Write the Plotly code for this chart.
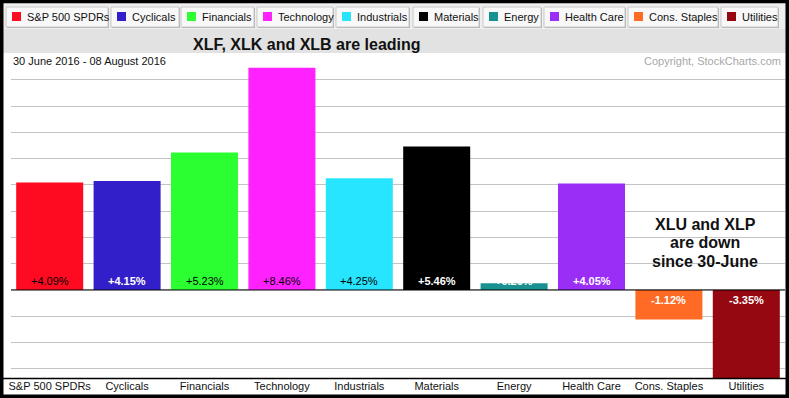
import plotly.graph_objects as go

# ---- data ----
categories = ["S&P 500 SPDRs", "Cyclicals", "Financials", "Technology", "Industrials",
              "Materials", "Energy", "Health Care", "Cons. Staples", "Utilities"]
changes = [4.09, 4.15, 5.23, 8.46, 4.25, 5.46, 0.26, 4.05, -1.12, -3.35]
bar_colors = ["#ff0b21", "#331fc9", "#2bff32", "#ff22ff", "#27e5ff",
              "#000000", "#1a9191", "#9a2ef6", "#ff6a24", "#950812"]
label_colors = ["black", "white", "black", "black", "black",
                "white", "white", "white", "white", "white"]
label_bold = [False, True, False, False, False, True, True, True, True, True]
title_text = "XLF, XLK and XLB are leading"
date_text = "30 June 2016 - 08 August 2016"
copyright_text = "Copyright, StockCharts.com"
note_lines = ["XLU and XLP", "are down", "since 30-June"]

# ---- layout constants (pixels) ----
W, H = 789, 398
PLOT_L, PLOT_R, PLOT_T, PLOT_B = 11, 785, 53, 378
legend_boxes = [(6, 108), (111, 179), (181, 254), (257, 333), (336, 409),
                (413, 479), (483, 541), (544, 625), (628, 718), (721, 778)]
FONT = "Liberation Sans, Arial, Helvetica, sans-serif"


def px(x):
    return x / W


def py(y):
    return 1 - y / H


fig = go.Figure()
fig.add_trace(go.Bar(
    x=categories, y=changes, marker=dict(color=bar_colors, line=dict(width=0)),
    hoverinfo="x+y", showlegend=False,
))

shapes = []
annotations = []

# header backgrounds
shapes.append(dict(type="rect", xref="paper", yref="paper", x0=0, x1=1,
                   y0=py(29), y1=1, fillcolor="#eeeeee", line=dict(width=0), layer="below"))
shapes.append(dict(type="rect", xref="paper", yref="paper", x0=0, x1=1,
                   y0=py(53), y1=py(29), fillcolor="#e2e2e2", line=dict(width=0), layer="below"))

# custom legend
for (x0, x1), name, col in zip(legend_boxes, categories, bar_colors):
    # shadow
    shapes.append(dict(type="rect", xref="paper", yref="paper", x0=px(x0 + 1), x1=px(x1 + 1),
                       y0=py(28), y1=py(8), fillcolor="#b0b0b0", line=dict(width=0)))
    shapes.append(dict(type="rect", xref="paper", yref="paper", x0=px(x0), x1=px(x1),
                       y0=py(27), y1=py(7), fillcolor="#f8f8f8",
                       line=dict(color="#c8c8c8", width=1)))
    shapes.append(dict(type="rect", xref="paper", yref="paper", x0=px(x0 + 6), x1=px(x0 + 15),
                       y0=py(21), y1=py(12), fillcolor=col, line=dict(width=0)))
    annotations.append(dict(xref="paper", yref="paper", x=px(x0 + 19), y=py(17),
                            xanchor="left", yanchor="middle", text=name, showarrow=False,
                            font=dict(family=FONT, size=11, color="#111111")))

# title
annotations.append(dict(xref="paper", yref="paper", x=px(307), y=py(45), xanchor="center",
                        yanchor="middle", text="<b>" + title_text + "</b>", showarrow=False,
                        font=dict(family=FONT, size=16, color="#111111")))
annotations.append(dict(xref="paper", yref="paper", x=px(11), y=py(61), xanchor="left",
                        yanchor="middle", text=date_text, showarrow=False,
                        font=dict(family=FONT, size=11, color="#111111")))
annotations.append(dict(xref="paper", yref="paper", x=px(783), y=py(61), xanchor="right",
                        yanchor="middle", text=copyright_text, showarrow=False,
                        font=dict(family=FONT, size=11, color="#a8a8a8")))

# note
for i, line in enumerate(note_lines):
    annotations.append(dict(xref="paper", yref="paper", x=px(705), y=py(224 + 18.5 * i),
                            xanchor="center", yanchor="middle", text="<b>" + line + "</b>",
                            showarrow=False, font=dict(family=FONT, size=16, color="#111111")))

# bar value labels
for cat, v, c, b in zip(categories, changes, label_colors, label_bold):
    txt = f"{v:+.2f}%"
    if b:
        txt = "<b>" + txt + "</b>"
    annotations.append(dict(x=cat, y=0, xref="x", yref="y", text=txt, showarrow=False,
                            yanchor="bottom" if v >= 0 else "top",
                            yshift=1 if v >= 0 else -2,
                            font=dict(family=FONT, size=11, color=c)))

# zero line and bottom axis line
shapes.append(dict(type="line", xref="paper", yref="y", x0=px(PLOT_L), x1=px(PLOT_R), y0=0, y1=0,
                   line=dict(color="black", width=1.2)))
shapes.append(dict(type="line", xref="paper", yref="paper", x0=0, x1=1, y0=py(378.5), y1=py(378.5),
                   line=dict(color="black", width=1.5)))
# outer border
shapes.append(dict(type="rect", xref="paper", yref="paper", x0=px(1.75), x1=px(787.25),
                   y0=py(396.25), y1=py(1.5), line=dict(color="black", width=3.5),
                   fillcolor="rgba(0,0,0,0)"))

fig.update_layout(
    width=W, height=H,
    margin=dict(l=0, r=0, t=0, b=0),
    paper_bgcolor="white", plot_bgcolor="white",
    bargap=0.134,
    xaxis=dict(domain=[px(PLOT_L), px(PLOT_R)], showgrid=False, showline=False, ticks="",
               tickfont=dict(family=FONT, size=11, color="#111111"), fixedrange=True,
               automargin=False),
    yaxis=dict(domain=[py(PLOT_B), py(PLOT_T)], range=[-3.35, 9.02], dtick=1,
               showgrid=True, gridcolor="#c4c4c4", gridwidth=1, zeroline=False,
               showticklabels=False, ticks="", showline=False, automargin=False),
    shapes=shapes,
    annotations=annotations,
    font=dict(family=FONT),
)

fig.write_html(
    "out.html",
    config={"displayModeBar": False},
    post_script="document.body.style.margin='0';document.body.style.padding='0';"
                "document.body.style.overflow='hidden';",
)
